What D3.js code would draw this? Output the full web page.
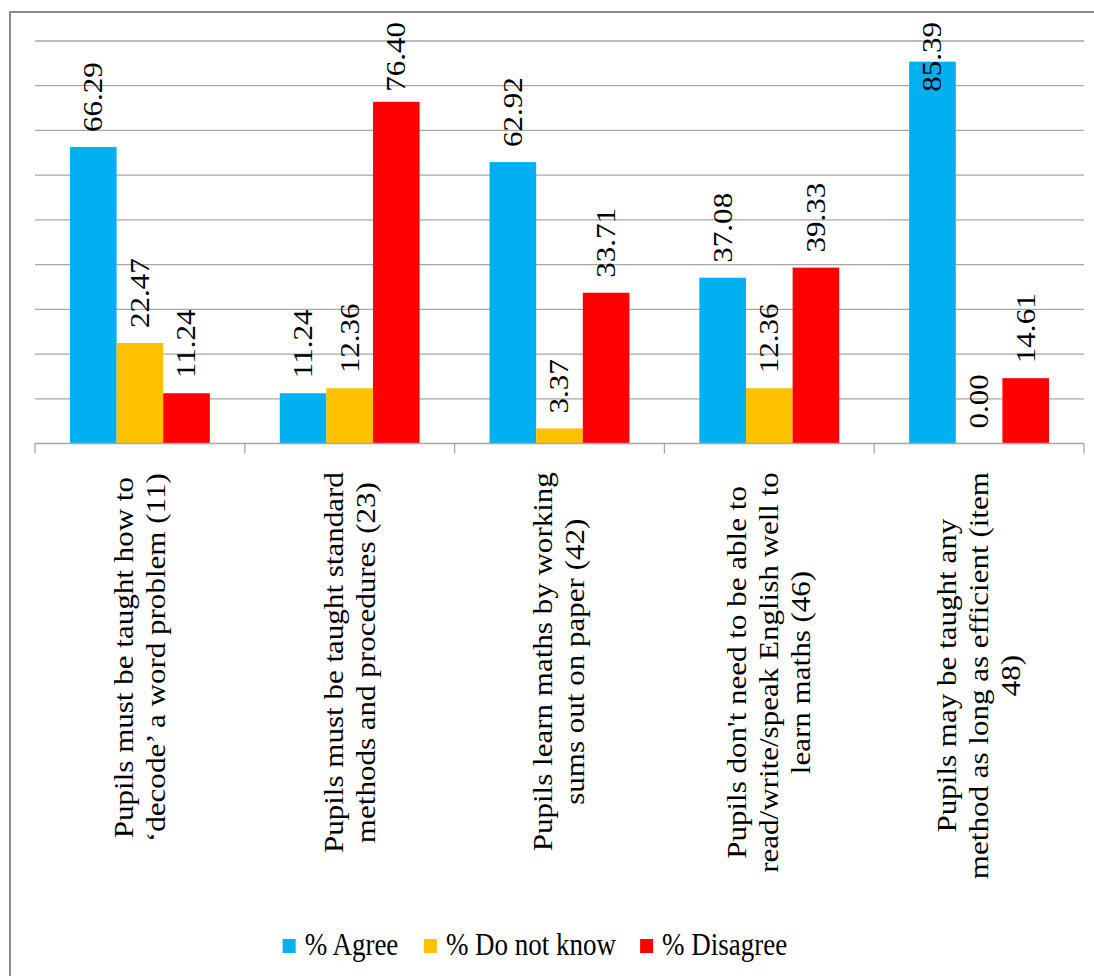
<!DOCTYPE html>
<html>
<head>
<meta charset="utf-8">
<script src="https://cdn.jsdelivr.net/npm/d3@7"></script>
</head>
<body style="margin:0">
<svg id="chart" width="1094" height="976"></svg>
<script>
const categories = [
  ["Pupils must be taught how to", "‘decode’ a word problem (11)"],
  ["Pupils must be taught standard", "methods and procedures (23)"],
  ["Pupils learn maths by working", "sums out on paper (42)"],
  ["Pupils don't need to be able to", "read/write/speak English well to", "learn maths (46)"],
  ["Pupils may be taught any", "method as long as efficient (item", "48)"]
];
const seriesNames = ["% Agree", "% Do not know", "% Disagree"];
const agree    = [66.29, 11.24, 62.92, 37.08, 85.39];
const dontKnow = [22.47, 12.36, 3.37, 12.36, 0.00];
const disagree = [11.24, 76.40, 33.71, 39.33, 14.61];
const seriesValues = [agree, dontKnow, disagree];
const colors = ["#00B0F0", "#FFC000", "#FF0000"];
const yTicks = [0, 10, 20, 30, 40, 50, 60, 70, 80, 90];

const FONT = '"Liberation Serif"';
const STRETCH = 1.15;
const BASE_FS = 30;          // render size
const K = 27 / BASE_FS;      // scale down to effective 27px

const ctx = document.createElement("canvas").getContext("2d");
ctx.font = BASE_FS + 'px "Liberation Serif"';
const measure = s => ctx.measureText(s).width * K;

const svg = d3.select("#chart");

function mkText(g, s) {
  return g.append("text").style("font-family", FONT).style("font-size", BASE_FS + "px").text(s);
}

// outer frame
svg.append("rect").attr("x", 10).attr("y", 12).attr("width", 1200).attr("height", 1100)
  .attr("fill", "none").attr("stroke", "#8c8c8c").attr("stroke-width", 2);

const plot = { left: 35, right: 1084, top: 41, bottom: 443.5 };

const x0 = d3.scaleBand().domain(d3.range(categories.length)).range([plot.left, plot.right]).padding(0);
const cw = x0.bandwidth();
const x1 = d3.scaleBand().domain(d3.range(seriesNames.length)).range([cw / 6, cw * 5 / 6]).padding(0);
const y = d3.scaleLinear().domain([0, 90]).range([plot.bottom, plot.top]);

// gridlines
svg.append("g").selectAll("line").data(yTicks.slice(1)).join("line")
  .attr("x1", plot.left).attr("x2", plot.right)
  .attr("y1", d => y(d)).attr("y2", d => y(d))
  .attr("stroke", "#a6a6a6").attr("stroke-width", 1.3);

// bars
const rows = [];
categories.forEach((c, i) => seriesValues.forEach((vals, s) => rows.push({ i, s, v: vals[i] })));
svg.append("g").selectAll("rect").data(rows).join("rect")
  .attr("x", d => x0(d.i) + x1(d.s))
  .attr("width", x1.bandwidth())
  .attr("y", d => y(d.v))
  .attr("height", d => y(0) - y(d.v))
  .attr("fill", d => colors[d.s]);

// x axis
const xAxis = svg.append("g");
xAxis.append("line").attr("x1", plot.left).attr("x2", plot.right)
  .attr("y1", y(0)).attr("y2", y(0)).attr("stroke", "#a6a6a6").attr("stroke-width", 1.3);
const boundaries = d3.range(categories.length + 1).map(i => plot.left + i * cw);
xAxis.selectAll("line.tick").data(boundaries).join("line").attr("class", "tick")
  .attr("x1", d => d).attr("x2", d => d).attr("y1", y(0)).attr("y2", y(0) + 10)
  .attr("stroke", "#a6a6a6").attr("stroke-width", 1.3);

// value labels (rotated)
const labelG = svg.append("g");
rows.forEach(d => {
  const cx = x0(d.i) + x1(d.s) + x1.bandwidth() / 2;
  const label = d.v.toFixed(2);
  const len = measure(label) * STRETCH;
  let startY = y(d.v) - 15;
  const minStart = 22 + len;
  if (startY < minStart) startY = minStart;
  const g = labelG.append("g")
    .attr("transform", `translate(${cx},${startY}) scale(1,${STRETCH}) rotate(-90) scale(${K})`);
  mkText(g, label).attr("text-anchor", "start").attr("dy", "0.33em");
});

// category labels (rotated, multi-line)
const catG = svg.append("g");
const pitch = 32;
categories.forEach((lines, i) => {
  const cx = x0(i) + cw / 2;
  const maxLen = d3.max(lines, l => measure(l)) * STRETCH;
  const cy = 472 + maxLen / 2;
  lines.forEach((l, k) => {
    const lx = cx + (k - (lines.length - 1) / 2) * pitch;
    const g = catG.append("g")
      .attr("transform", `translate(${lx},${cy}) scale(1,${STRETCH}) rotate(-90) scale(${K})`);
    mkText(g, l).attr("text-anchor", "middle").attr("dy", "0.33em");
  });
});

// legend
const legG = svg.append("g");
const sq = 13, gapSq = 9, gapItem = 24;
const widths = seriesNames.map(measure);
const totalW = d3.sum(widths, w => sq + gapSq + w) + gapItem * (seriesNames.length - 1);
let lx = 535 - totalW / 2;
const baseY = 955;
seriesNames.forEach((n, s) => {
  legG.append("rect").attr("x", lx).attr("y", 939).attr("width", sq).attr("height", 14)
    .attr("fill", colors[s]);
  const g = legG.append("g")
    .attr("transform", `translate(${lx + sq + gapSq},${baseY}) scale(1,${STRETCH}) scale(${K})`);
  mkText(g, n);
  lx += sq + gapSq + widths[s] + gapItem;
});
</script>
</body>
</html>
